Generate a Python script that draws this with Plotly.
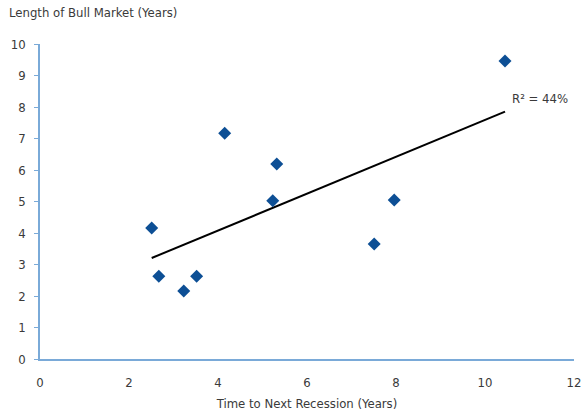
import numpy as np
import plotly.graph_objects as go

time_to_recession = [2.51, 2.67, 3.23, 3.52, 4.15, 5.23, 5.32, 7.51, 7.96, 10.45]
bull_length = [4.16, 2.63, 2.16, 2.63, 7.17, 5.02, 6.19, 3.65, 5.05, 9.46]
x_ticks = [0, 2, 4, 6, 8, 10, 12]
y_ticks = list(range(0, 11))
r2_label = "R² = 44%"

x = np.array(time_to_recession)
y = np.array(bull_length)
slope, intercept = np.polyfit(x, y, 1)
xl = np.array([x.min(), x.max()])
yl = slope * xl + intercept

FONT = "DejaVu Sans Condensed"
TXT = "#3a3a3a"
AX = "#7aaad8"

fig = go.Figure()
fig.add_trace(go.Scatter(x=xl, y=yl, mode="lines",
                         line=dict(color="black", width=2), hoverinfo="skip"))
fig.add_trace(go.Scatter(x=x, y=y, mode="markers",
                         marker=dict(symbol="diamond", size=10, color="#0d4f95")))
fig.add_annotation(x=xl[1], y=yl[1], text=r2_label, showarrow=False,
                   xanchor="left", yanchor="bottom", xshift=5, yshift=4,
                   font=dict(family=FONT, size=13, color=TXT))
fig.add_annotation(x=0, y=1, xref="paper", yref="paper", text="Length of Bull Market (Years)",
                   showarrow=False, xanchor="left", yanchor="bottom",
                   xshift=-33, yshift=22, font=dict(family=FONT, size=13, color=TXT))

fig.update_layout(
    width=582, height=414, margin=dict(l=40, r=8, t=44, b=55, autoexpand=False),
    plot_bgcolor="white", paper_bgcolor="white", showlegend=False,
    font=dict(family=FONT, size=13, color=TXT),
    xaxis=dict(range=[0, 12], tickvals=x_ticks, showgrid=False, zeroline=False,
               automargin=False, ticklabeloverflow="allow",
               showline=True, linecolor=AX, linewidth=1.5, ticks="outside",
               ticklen=11, tickcolor="rgba(0,0,0,0)",
               title=dict(text="Time to Next Recession (Years)", standoff=10,
                          font=dict(family=FONT, size=13, color=TXT))),
    yaxis=dict(range=[0, 10], tickvals=y_ticks, showgrid=False, zeroline=False,
               automargin=False, ticklabelstandoff=6,
               showline=True, linecolor=AX, linewidth=1.5, ticks="outside",
               ticklen=4, tickcolor=AX),
)
fig.write_html("out.html", config={"displayModeBar": False},
               post_script="document.body.style.margin='0';document.body.style.overflow='hidden';")
